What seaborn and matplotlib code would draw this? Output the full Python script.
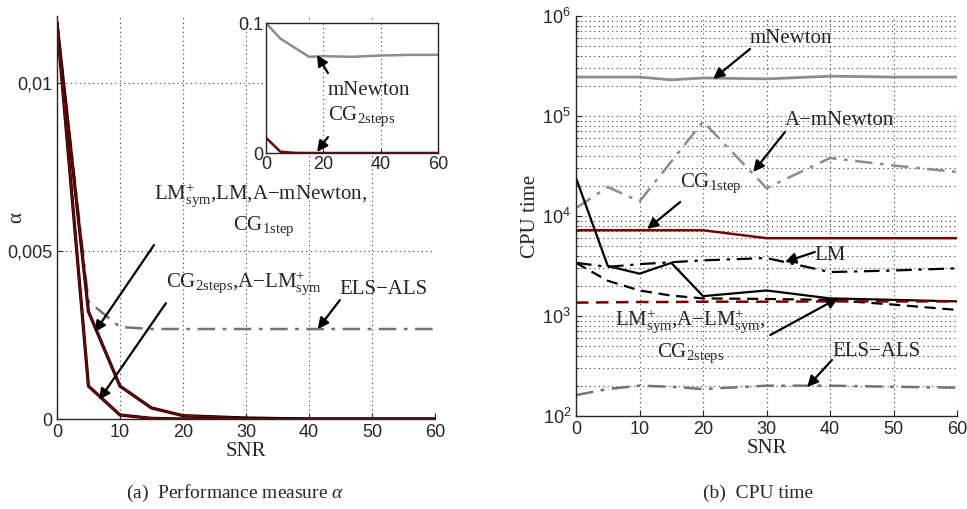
import matplotlib
matplotlib.use("Agg")
import matplotlib.pyplot as plt
import seaborn as sns

# SNR grid shared by all series
snr = [0, 5, 10, 15, 20, 30, 40, 50, 60]

# (a) performance measure alpha
alpha_upper = [0.0118, 0.0032, 0.00098, 0.00033, 0.0001, 0.00003, 0.0, 0.0, 0.0]  # LM+sym, LM, A-mNewton, CG1step
alpha_lower = [0.0118, 0.00098, 0.00012, 0.00002, 0.0, 0.0, 0.0, 0.0, 0.0]       # CG2steps, A-LM+sym
alpha_els = [0.0118, 0.0035, 0.00274, 0.00268, 0.00268, 0.00268, 0.00268, 0.00268, 0.00268]
alpha_mnewton = [0.1, 0.088, 0.081, 0.074, 0.0745, 0.074, 0.075, 0.0755, 0.0755]  # inset
alpha_yticks = [0, 0.005, 0.01]
alpha_yticklabels = ["0", "0,005", "0,01"]
snr_ticks = [0, 10, 20, 30, 40, 50, 60]
inset_xticks = [0, 20, 40, 60]
inset_yticks = [0, 0.1]
inset_yticklabels = ["0", "0.1"]

# (b) CPU time
cpu_mnewton = [2.45e5, 2.45e5, 2.45e5, 2.3e5, 2.4e5, 2.35e5, 2.5e5, 2.45e5, 2.45e5]
cpu_amnewton = [1.2e4, 1.95e4, 1.4e4, 3.5e4, 8.8e4, 1.9e4, 3.8e4, 3.2e4, 2.75e4]
cpu_cg1 = [7.2e3, 7.2e3, 7.2e3, 7.2e3, 7.2e3, 6.0e3, 6.0e3, 6.0e3, 6.0e3]
cpu_lmsym = [2.4e4, 3.16e3, 2.65e3, 3.4e3, 1.58e3, 1.8e3, 1.5e3, 1.45e3, 1.4e3]
cpu_lm = [3.4e3, 3.1e3, 3.3e3, 3.45e3, 3.6e3, 3.8e3, 2.75e3, 2.85e3, 3.0e3]
cpu_alm = [3.4e3, 2.25e3, 1.8e3, 1.6e3, 1.5e3, 1.48e3, 1.45e3, 1.3e3, 1.15e3]
cpu_cg2 = [1.36e3, 1.37e3, 1.38e3, 1.38e3, 1.39e3, 1.39e3, 1.4e3, 1.4e3, 1.4e3]
cpu_els = [162, 186, 201, 196, 186, 201, 201, 196, 192]

sns.set_style("ticks")
plt.rcParams["font.family"] = ["Liberation Serif", "DejaVu Serif"]
plt.rcParams["mathtext.fontset"] = "custom"
plt.rcParams["mathtext.rm"] = "Liberation Serif"
plt.rcParams["mathtext.it"] = "Liberation Serif:italic"
plt.rcParams["xtick.direction"] = "in"
plt.rcParams["ytick.direction"] = "in"

DRED = "#7a0000"
GREY = "0.55"
DGREY = "0.45"
DASHDOT = (0, (7, 3, 1.5, 3))
GRID = dict(ls=(0, (1, 3)), color="0.25", lw=0.8)
TXT = 15
TICK = 13
arrow = dict(arrowstyle="-|>", color="k", lw=1.6, mutation_scale=16, shrinkA=0, shrinkB=0)

fig = plt.figure(figsize=(9.67, 5.09), dpi=100)
ax1 = fig.add_axes([0.0589, 0.1768, 0.3909, 0.7917])
ax2 = fig.add_axes([0.5957, 0.1827, 0.394, 0.7859])


def style_axes(ax):
    ax.set_axisbelow(True)
    ax.grid(True, which="major", **GRID)
    ax.tick_params(labelsize=TICK, labelfontfamily="Liberation Sans", length=4, width=0.8)
    for s in ["left", "bottom"]:
        ax.spines[s].set_linewidth(1.0)


# ---- (a) alpha ----
sns.lineplot(x=snr, y=alpha_els, ax=ax1, color=DGREY, lw=1.8, linestyle=DASHDOT)
sns.lineplot(x=snr, y=alpha_upper, ax=ax1, color="k", lw=2.3)
sns.lineplot(x=snr, y=alpha_upper, ax=ax1, color=DRED, lw=1.3)
sns.lineplot(x=snr, y=alpha_lower, ax=ax1, color="k", lw=2.3)
sns.lineplot(x=snr, y=alpha_lower, ax=ax1, color=DRED, lw=1.5)
ax1.set_xlim(0, 60)
ax1.set_ylim(0, 0.012)
ax1.set_xticks(snr_ticks)
ax1.set_yticks(alpha_yticks, alpha_yticklabels)
sns.despine(ax=ax1)
style_axes(ax1)
ax1.set_xlabel("SNR", fontsize=TXT, labelpad=1)
ax1.set_ylabel("α", fontsize=TXT)
ax1.yaxis.set_label_coords(-0.082, 0.5)

ax1.text(15.4, 0.00655, r"LM$^{+}_{\mathrm{sym}}$,LM,A−mNewton,", fontsize=TXT, va="baseline")
ax1.text(28.0, 0.00562, r"CG$_{\mathrm{1step}}$", fontsize=TXT, va="baseline")
ax1.annotate("", xy=(6.0, 0.00259), xytext=(15.4, 0.00518), arrowprops=arrow)
ax1.text(17.3, 0.00393, r"CG$_{\mathrm{2steps}}$,A−LM$^{+}_{\mathrm{sym}}$", fontsize=TXT, va="baseline")
ax1.annotate("", xy=(6.7, 0.00057), xytext=(17.3, 0.00345), arrowprops=arrow)
ax1.text(44.9, 0.00372, "ELS−ALS", fontsize=TXT, va="baseline")
ax1.annotate("", xy=(41.4, 0.00268), xytext=(44.9, 0.00354), arrowprops=arrow)

# inset
axi = fig.add_axes([0.2751, 0.6994, 0.1779, 0.2554])
sns.lineplot(x=snr, y=alpha_mnewton, ax=axi, color=GREY, lw=1.8)
sns.lineplot(x=snr, y=alpha_lower, ax=axi, color=DRED, lw=1.8)
axi.set_xlim(0, 60)
axi.set_ylim(0, 0.1)
axi.set_xticks(inset_xticks)
axi.set_yticks(inset_yticks, inset_yticklabels)
axi.set_axisbelow(True)
axi.grid(True, axis="x", **GRID)
axi.tick_params(labelsize=TICK, labelfontfamily="Liberation Sans", length=3, pad=2)
for s in axi.spines.values():
    s.set_linewidth(1.0)
axi.text(21.6, 0.0446, "mNewton", fontsize=TXT, va="baseline")
axi.text(21.6, 0.0254, r"CG$_{\mathrm{2steps}}$", fontsize=TXT, va="baseline")
axi.annotate("", xy=(17.8, 0.0754), xytext=(21.6, 0.0615), arrowprops=arrow)
axi.annotate("", xy=(17.8, 0.0008), xytext=(21.6, 0.0123), arrowprops=arrow)

# ---- (b) CPU time ----
sns.lineplot(x=snr, y=cpu_mnewton, ax=ax2, color=GREY, lw=2.0)
sns.lineplot(x=snr, y=cpu_amnewton, ax=ax2, color=GREY, lw=1.8, linestyle=DASHDOT)
sns.lineplot(x=snr, y=cpu_cg1, ax=ax2, color=DRED, lw=1.8)
sns.lineplot(x=snr, y=cpu_lm, ax=ax2, color="k", lw=1.6, linestyle=DASHDOT)
sns.lineplot(x=snr, y=cpu_lmsym, ax=ax2, color="k", lw=1.6)
sns.lineplot(x=snr, y=cpu_alm, ax=ax2, color="k", lw=1.6, linestyle=(0, (5, 3)))
sns.lineplot(x=snr, y=cpu_cg2, ax=ax2, color=DRED, lw=1.8, linestyle=(0, (5, 3)))
sns.lineplot(x=snr, y=cpu_els, ax=ax2, color=DGREY, lw=1.8, linestyle=DASHDOT)
ax2.set_yscale("log")
ax2.set_xlim(0, 60)
ax2.set_ylim(1e2, 1e6)
ax2.set_xticks(snr_ticks)
sns.despine(ax=ax2)
style_axes(ax2)
ax2.yaxis.grid(True, which="minor", **GRID)
ax2.tick_params(which="minor", length=2)
ax2.set_xlabel("SNR", fontsize=TXT, labelpad=1)
ax2.set_ylabel("CPU time", fontsize=TXT)
ax2.yaxis.set_label_coords(-0.095, 0.5)

ax2.text(27.4, 10 ** 5.73, "mNewton", fontsize=TXT, va="baseline")
ax2.annotate("", xy=(21.6, 10 ** 5.37), xytext=(27.4, 10 ** 5.67), arrowprops=arrow)
ax2.text(32.9, 10 ** 4.91, "A−mNewton", fontsize=TXT, va="baseline")
ax2.annotate("", xy=(27.9, 10 ** 4.44), xytext=(32.9, 10 ** 4.84), arrowprops=arrow)
ax2.text(16.4, 10 ** 4.29, r"CG$_{\mathrm{1step}}$", fontsize=TXT, va="baseline")
ax2.annotate("", xy=(11.2, 10 ** 3.87), xytext=(16.4, 10 ** 4.14), arrowprops=arrow)
ax2.text(37.6, 10 ** 3.56, "LM", fontsize=TXT, va="baseline")
ax2.annotate("", xy=(32.9, 10 ** 3.54), xytext=(37.6, 10 ** 3.64), arrowprops=arrow)
ax2.text(6.1, 10 ** 2.91, r"LM$^{+}_{\mathrm{sym}}$,A−LM$^{+}_{\mathrm{sym}}$,", fontsize=TXT, va="baseline")
ax2.text(12.8, 10 ** 2.59, r"CG$_{\mathrm{2steps}}$", fontsize=TXT, va="baseline")
ax2.annotate("", xy=(41.3, 10 ** 3.18), xytext=(30.6, 10 ** 2.81), arrowprops=arrow)
ax2.text(40.3, 10 ** 2.60, "ELS−ALS", fontsize=TXT, va="baseline")
ax2.annotate("", xy=(36.4, 10 ** 2.29), xytext=(40.3, 10 ** 2.56), arrowprops=arrow)

fig.text(235 / 967, 1 - 493 / 509, r"(a)  Performance measure $\alpha$", fontsize=14, ha="center", va="center")
fig.text(758 / 967, 1 - 493 / 509, "(b)  CPU time", fontsize=14, ha="center", va="center")

fig.savefig("out.png", dpi=100)
